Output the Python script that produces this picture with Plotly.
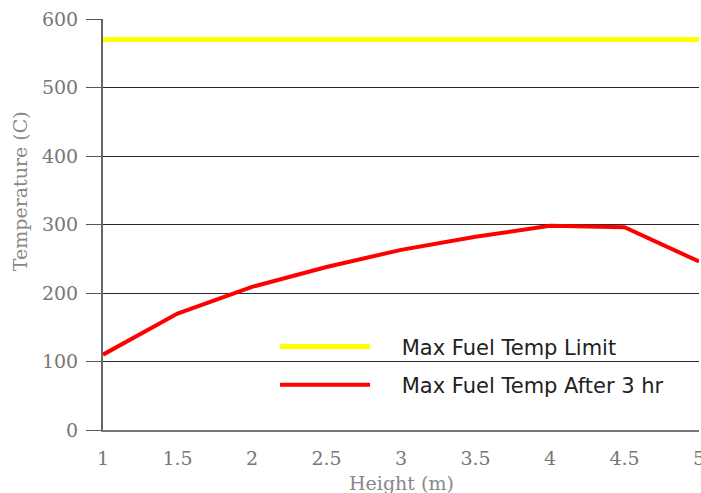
import plotly.graph_objects as go

# Fuel temperature profile along the assembly height
heights = [1, 1.5, 2, 2.5, 3, 3.5, 4, 4.5, 5]
temp_after_3hr = [110, 170, 209, 238, 263, 282, 298, 296, 246]
temp_limit = [570] * len(heights)

x_ticks = [1, 1.5, 2, 2.5, 3, 3.5, 4, 4.5, 5]
x_tick_labels = ["1", "1.5", "2", "2.5", "3", "3.5", "4", "4.5", "5"]
y_ticks = [0, 100, 200, 300, 400, 500, 600]

serif = "DejaVu Serif"
sans = "DejaVu Sans"
pad = "\u00a0" * 4

fig = go.Figure()
fig.add_trace(go.Scatter(
    x=heights, y=temp_limit, mode="lines", name=pad + "Max Fuel Temp Limit",
    legendgroup="limit",
    line=dict(color="#ffff00", width=5),
))
fig.add_trace(go.Scatter(
    x=heights, y=temp_after_3hr, mode="lines", name=pad + "Max Fuel Temp After 3 hr",
    legendgroup="after",
    line=dict(color="#ff0000", width=4),
))

fig.update_layout(
    width=701, height=493,
    margin=dict(l=103, r=2, t=19, b=63),
    paper_bgcolor="white", plot_bgcolor="white",
    showlegend=True,
    legend=dict(
        x=0.2886, y=0.156, xanchor="left", yanchor="middle",
        bgcolor="rgba(0,0,0,0)", itemwidth=90,
        font=dict(family=sans, size=21, color="#222222"),
        tracegroupgap=8, itemclick=False, itemdoubleclick=False,
    ),
    xaxis=dict(
        range=[1, 5], tickvals=x_ticks, ticktext=x_tick_labels,
        showgrid=False, zeroline=False, automargin=False,
        showline=True, linecolor="#777777", linewidth=2, ticks="",
        tickfont=dict(family=serif, size=19, color="#777777"),
        ticklabelstandoff=10, ticklabeloverflow="allow",
    ),
    yaxis=dict(
        range=[0, 600], tickvals=y_ticks, automargin=False,
        showgrid=True, gridcolor="#2a2a2a", gridwidth=1,
        zeroline=False, showline=True, linecolor="#666666", linewidth=2,
        ticks="outside", ticklen=15, tickcolor="#555555", tickwidth=1,
        tickfont=dict(family=serif, size=19, color="#777777"),
        ticklabelstandoff=4,
    ),
    annotations=[
        dict(text="Temperature (C)", xref="paper", yref="paper",
             x=-0.14, y=0.58, xanchor="center", yanchor="middle",
             textangle=-90, showarrow=False,
             font=dict(family=serif, size=19, color="#888888")),
        dict(text="Height (m)", xref="paper", yref="paper",
             x=0.5, y=-0.128, xanchor="center", yanchor="middle",
             showarrow=False,
             font=dict(family=serif, size=19, color="#888888")),
    ],
)

fig.write_html("out.html")
